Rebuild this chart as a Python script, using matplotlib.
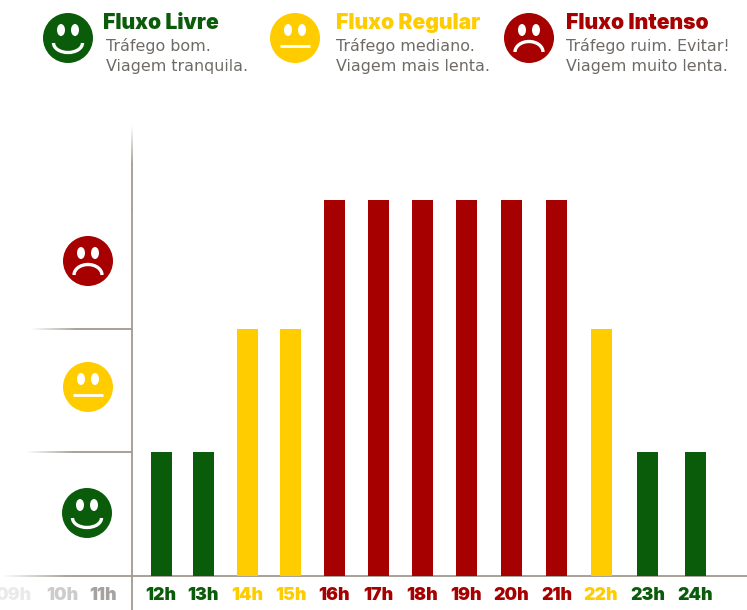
import numpy as np
import matplotlib
matplotlib.use("Agg")
import matplotlib.pyplot as plt
from matplotlib.patches import Circle, Ellipse, Arc
from matplotlib.collections import LineCollection

# data
hours = ["12h", "13h", "14h", "15h", "16h", "17h", "18h", "19h", "20h", "21h", "22h", "23h", "24h"]
levels = [1, 1, 2, 2, 3, 3, 3, 3, 3, 3, 2, 1, 1]
faded_hours = ["09h", "10h", "11h"]
legend_titles = ["Fluxo Livre", "Fluxo Regular", "Fluxo Intenso"]
legend_lines = [["Tráfego bom.", "Viagem tranquila."],
                ["Tráfego mediano.", "Viagem mais lenta."],
                ["Tráfego ruim. Evitar!", "Viagem muito lenta."]]

# layout, in pixels of the picture
GREEN = "#0a5c0a"
YELLOW = "#ffcc00"
RED = "#a60000"
GREY = "#6e6a66"
LINE = "#a09a90"
colors = {1: GREEN, 2: YELLOW, 3: RED}
level_height = {1: 124, 2: 247, 3: 376}
bar_x = [161, 203.5, 247.5, 290.5, 334.5, 378, 422, 466, 511.5, 556.5, 601, 647.5, 695.5]
faded_x = [14, 62, 103]
faded_alpha = [0.12, 0.3, 0.55]
BASE = 576
FONT = "DejaVu Sans"
HEAVY_FONT = "Inter"

fig = plt.figure(figsize=(7.47, 6.10), dpi=100)
ax = fig.add_axes([0, 0, 1, 1])
ax.set_xlim(0, 747)
ax.set_ylim(-34, BASE)
ax.axis("off")


def py(y):
    # y measured from the top of the picture -> axis value
    return BASE - y


def fade_line(x0, y0, x1, y1, lw=1.3):
    # line that goes from transparent at the start to solid at the end
    n = 60
    xs = np.linspace(x0, x1, n)
    ys = np.linspace(y0, y1, n)
    segs = [[(xs[i], ys[i]), (xs[i + 1], ys[i + 1])] for i in range(n - 1)]
    rgba = np.tile(matplotlib.colors.to_rgba(LINE), (n - 1, 1))
    rgba[:, 3] = np.clip(np.linspace(0, 2.2, n - 1), 0, 1)
    ax.add_collection(LineCollection(segs, colors=rgba, linewidths=lw, capstyle="butt"))


def face(cx, cy, level):
    y = py(cy)
    ax.add_patch(Circle((cx, y), 25, fc=colors[level], ec="none"))
    for dx in (-7, 7):
        ax.add_patch(Ellipse((cx + dx, y + 8), 8, 12, fc="white", ec="none"))
    if level == 1:
        ax.add_patch(Arc((cx, y - 5), 29, 19, theta1=180, theta2=360, ec="white", lw=2.4))
    elif level == 2:
        ax.plot([cx - 15, cx + 15], [y - 8, y - 8], color="white", lw=2, solid_capstyle="butt")
    else:
        ax.add_patch(Arc((cx, y - 14), 28, 21, theta1=0, theta2=180, ec="white", lw=2.4))


# guide lines behind the bars
fade_line(132, py(125), 132, py(210))
ax.plot([132, 132], [py(210), py(610)], color=LINE, lw=1.3)
fade_line(30, py(329), 132, py(329))
fade_line(25, py(452), 132, py(452))
fade_line(0, 0, 150, 0)
ax.plot([150, 747], [0, 0], color=LINE, lw=1.3)

# bars
heights = [level_height[v] for v in levels]
ax.bar(bar_x, heights, width=21, color=[colors[v] for v in levels], zorder=3)

# hour labels
for x, label, v in zip(bar_x, hours, levels):
    ax.text(x, py(595), label, color=colors[v], fontsize=12.8, fontweight=900,
            family=HEAVY_FONT, ha="center", va="center")
for x, label, a in zip(faded_x, faded_hours, faded_alpha):
    ax.text(x, py(595), label, color="#5c5650", alpha=a, fontsize=12.8, fontweight=900,
            family=HEAVY_FONT, ha="center", va="center")

# faces next to the axis
face(88, 261, 3)
face(88, 387, 2)
face(87, 513, 1)

# legend on top
face_x = [68, 295, 529]
title_x = [103, 336, 566]
text_x = [106, 336, 566]
for i in range(3):
    face(face_x[i], 38, i + 1)
    ax.text(title_x[i], py(23), legend_titles[i], color=colors[i + 1], fontsize=15.2,
            fontweight=900, family=HEAVY_FONT, va="center")
    ax.text(text_x[i], py(46), legend_lines[i][0], color=GREY, fontsize=11.4, family=FONT, va="center")
    ax.text(text_x[i], py(67), legend_lines[i][1], color=GREY, fontsize=11.4, family=FONT, va="center")

fig.savefig("out.png", dpi=100)
